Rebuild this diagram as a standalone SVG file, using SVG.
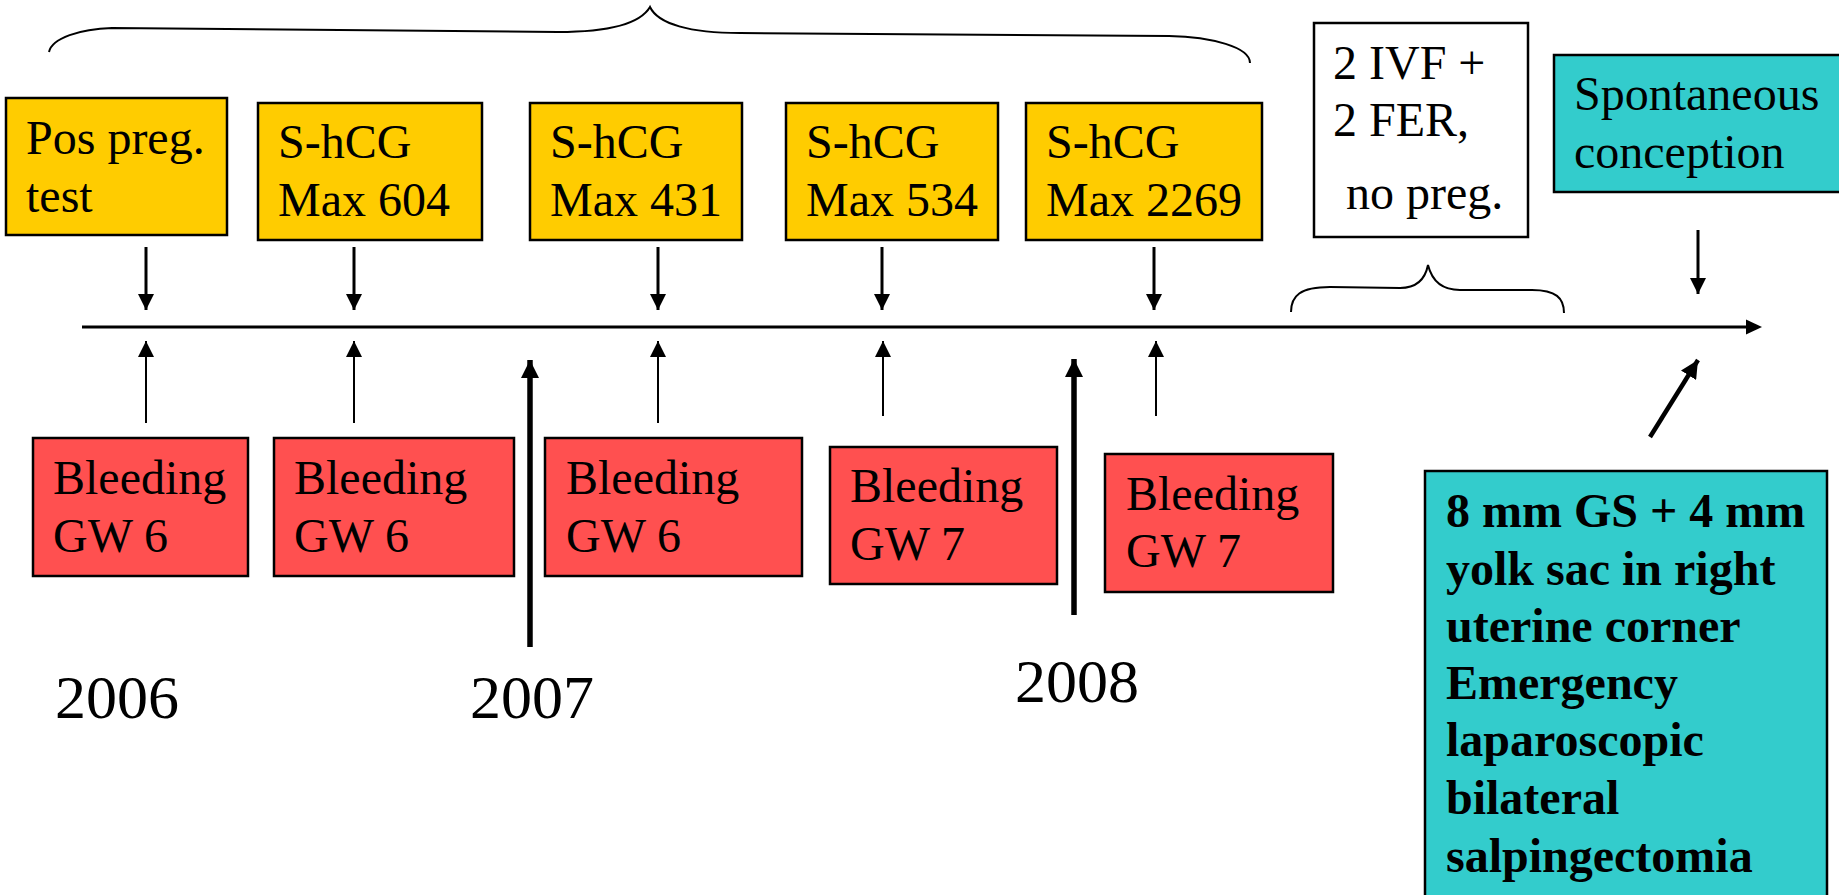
<svg xmlns="http://www.w3.org/2000/svg" width="1839" height="895" viewBox="0 0 1839 895">
<style>
text{font-family:"Liberation Serif","Times New Roman",serif;font-size:48px;fill:#000}
.b{font-weight:bold}
.yr{font-size:62px}
.y{fill:#FFCC00;stroke:#000;stroke-width:2.5}
.r{fill:#FF5050;stroke:#000;stroke-width:2.5}
.t{fill:#33CCCC;stroke:#000;stroke-width:2.5}
.w{fill:#fff;stroke:#000;stroke-width:2.5}
.br{fill:none;stroke:#000;stroke-width:2}
.dn{stroke:#000;stroke-width:3;marker-end:url(#ah)}
.up{stroke:#000;stroke-width:2;marker-end:url(#ah)}
.yrA{stroke:#000;stroke-width:5.5;marker-end:url(#ahb)}
</style>
<defs>
<marker id="ah" markerUnits="userSpaceOnUse" markerWidth="16" markerHeight="16" refX="16" refY="8" orient="auto"><path d="M0,0 L16,8 L0,16 z" fill="#000"/></marker>
<marker id="ahb" markerUnits="userSpaceOnUse" markerWidth="18" markerHeight="18" refX="18" refY="9" orient="auto"><path d="M0,0 L18,9 L0,18 z" fill="#000"/></marker>
</defs>
<rect width="1839" height="895" fill="#fff"/>
<g id="connectors">
<path class="br" d="M49,52 C52,38 80,29 112,28 L558,32 C610,32 640,24 650,7 C658,24 690,33 740,33 L1169,36 C1212,37 1250,47 1250,63"/>
<path class="br" d="M1291,312 C1291,296 1300,287 1330,287 L1400,288 C1416,288 1425,280 1428,265 C1432,281 1442,290 1460,290 L1532,290 C1556,290 1564,298 1564,313"/>
<line x1="82" y1="327" x2="1750" y2="327" stroke="#000" stroke-width="3"/>
<path d="M1746,319.5 L1762,327 L1746,334.5 z" fill="#000"/>
<line class="dn" x1="146" y1="247" x2="146" y2="310"/>
<line class="dn" x1="354" y1="247" x2="354" y2="310"/>
<line class="dn" x1="658" y1="247" x2="658" y2="310"/>
<line class="dn" x1="882" y1="247" x2="882" y2="310"/>
<line class="dn" x1="1154" y1="247" x2="1154" y2="310"/>
<line class="dn" x1="1698" y1="230" x2="1698" y2="294"/>
<line class="up" x1="146" y1="423" x2="146" y2="341"/>
<line class="up" x1="354" y1="423" x2="354" y2="341"/>
<line class="up" x1="658" y1="423" x2="658" y2="341"/>
<line class="up" x1="883" y1="416" x2="883" y2="341"/>
<line class="up" x1="1156" y1="416" x2="1156" y2="341"/>
<line class="yrA" x1="530" y1="647" x2="530" y2="360"/>
<line class="yrA" x1="1074" y1="615" x2="1074" y2="359"/>
<line x1="1650" y1="437" x2="1698" y2="360" stroke="#000" stroke-width="4.5" marker-end="url(#ahb)"/>
</g>
<g id="n-pos"><rect class="y" x="6" y="98" width="221" height="137"/><text x="26" y="154">Pos preg.</text><text x="26" y="212">test</text></g>
<g id="n-h604"><rect class="y" x="258" y="103" width="224" height="137"/><text x="278" y="158">S-hCG</text><text x="278" y="216">Max 604</text></g>
<g id="n-h431"><rect class="y" x="530" y="103" width="212" height="137"/><text x="550" y="158">S-hCG</text><text x="550" y="216">Max 431</text></g>
<g id="n-h534"><rect class="y" x="786" y="103" width="212" height="137"/><text x="806" y="158">S-hCG</text><text x="806" y="216">Max 534</text></g>
<g id="n-h2269"><rect class="y" x="1026" y="103" width="236" height="137"/><text x="1046" y="158">S-hCG</text><text x="1046" y="216">Max 2269</text></g>
<g id="n-ivf"><rect class="w" x="1314" y="23" width="214" height="214"/><text x="1333" y="79">2 IVF +</text><text x="1333" y="136">2 FER,</text><text x="1346" y="209">no preg.</text></g>
<g id="n-spont"><rect class="t" x="1554" y="55" width="295" height="137"/><text x="1574" y="110">Spontaneous</text><text x="1574" y="168">conception</text></g>
<g id="n-b1"><rect class="r" x="33" y="438" width="215" height="138"/><text x="53" y="494">Bleeding</text><text x="53" y="552">GW 6</text></g>
<g id="n-b2"><rect class="r" x="274" y="438" width="240" height="138"/><text x="294" y="494">Bleeding</text><text x="294" y="552">GW 6</text></g>
<g id="n-b3"><rect class="r" x="545" y="438" width="257" height="138"/><text x="566" y="494">Bleeding</text><text x="566" y="552">GW 6</text></g>
<g id="n-b4"><rect class="r" x="830" y="447" width="227" height="137"/><text x="850" y="502">Bleeding</text><text x="850" y="560">GW 7</text></g>
<g id="n-b5"><rect class="r" x="1105" y="454" width="228" height="138"/><text x="1126" y="510">Bleeding</text><text x="1126" y="567">GW 7</text></g>
<g id="n-gs"><rect class="t" x="1425" y="471" width="402" height="440"/>
<text class="b" x="1446" y="527">8 mm GS + 4 mm</text>
<text class="b" x="1446" y="585">yolk sac in right</text>
<text class="b" x="1446" y="642">uterine corner</text>
<text class="b" x="1446" y="699">Emergency</text>
<text class="b" x="1446" y="756">laparoscopic</text>
<text class="b" x="1446" y="814">bilateral</text>
<text class="b" x="1446" y="872">salpingectomia</text>
</g>
<g id="years">
<text class="yr" x="55" y="718">2006</text>
<text class="yr" x="470" y="718">2007</text>
<text class="yr" x="1015" y="702">2008</text>
</g>
</svg>
